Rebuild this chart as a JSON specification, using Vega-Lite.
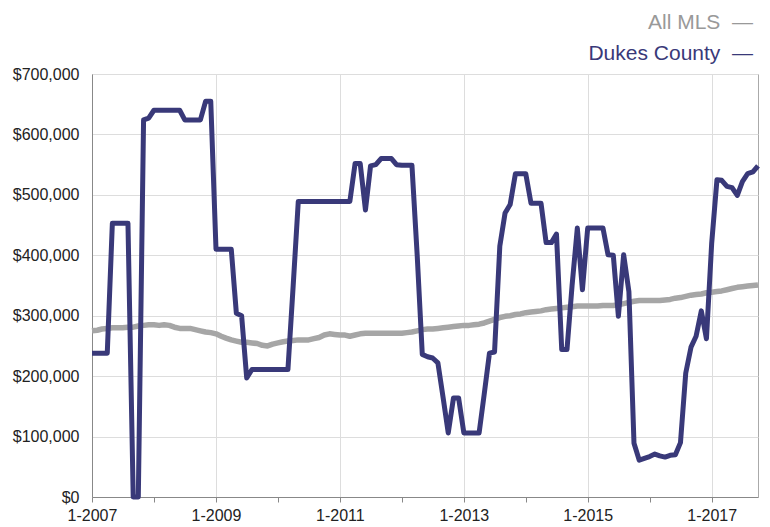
{
  "$schema": "https://vega.github.io/schema/vega-lite/v6.json",
  "width": 666,
  "height": 423,
  "autosize": {"type": "none"},
  "padding": {"left": 92, "top": 74, "right": 12, "bottom": 30},
  "background": "white",
  "config": {"font": "Liberation Sans", "view": {"stroke": "#aaaaaa", "strokeWidth": 1}},
  "data": {"values": [
    {"date":"2007-01-01","All MLS":275000,"Dukes County":238000},
    {"date":"2007-02-01","All MLS":276000,"Dukes County":238000},
    {"date":"2007-03-01","All MLS":278000,"Dukes County":238000},
    {"date":"2007-04-01","All MLS":279000,"Dukes County":238000},
    {"date":"2007-05-01","All MLS":280000,"Dukes County":453000},
    {"date":"2007-06-01","All MLS":280000,"Dukes County":453000},
    {"date":"2007-07-01","All MLS":280000,"Dukes County":453000},
    {"date":"2007-08-01","All MLS":281000,"Dukes County":453000},
    {"date":"2007-09-01","All MLS":281000,"Dukes County":0},
    {"date":"2007-10-01","All MLS":283000,"Dukes County":0},
    {"date":"2007-11-01","All MLS":284000,"Dukes County":624000},
    {"date":"2007-12-01","All MLS":285000,"Dukes County":627000},
    {"date":"2008-01-01","All MLS":285000,"Dukes County":640000},
    {"date":"2008-02-01","All MLS":284000,"Dukes County":640000},
    {"date":"2008-03-01","All MLS":285000,"Dukes County":640000},
    {"date":"2008-04-01","All MLS":284000,"Dukes County":640000},
    {"date":"2008-05-01","All MLS":281000,"Dukes County":640000},
    {"date":"2008-06-01","All MLS":279000,"Dukes County":640000},
    {"date":"2008-07-01","All MLS":279000,"Dukes County":624000},
    {"date":"2008-08-01","All MLS":279000,"Dukes County":624000},
    {"date":"2008-09-01","All MLS":277000,"Dukes County":624000},
    {"date":"2008-10-01","All MLS":275000,"Dukes County":624000},
    {"date":"2008-11-01","All MLS":273000,"Dukes County":655000},
    {"date":"2008-12-01","All MLS":272000,"Dukes County":655000},
    {"date":"2009-01-01","All MLS":270000,"Dukes County":410000},
    {"date":"2009-02-01","All MLS":266000,"Dukes County":410000},
    {"date":"2009-03-01","All MLS":263000,"Dukes County":410000},
    {"date":"2009-04-01","All MLS":260000,"Dukes County":410000},
    {"date":"2009-05-01","All MLS":258000,"Dukes County":304000},
    {"date":"2009-06-01","All MLS":256000,"Dukes County":300000},
    {"date":"2009-07-01","All MLS":256000,"Dukes County":197000},
    {"date":"2009-08-01","All MLS":255000,"Dukes County":211000},
    {"date":"2009-09-01","All MLS":254000,"Dukes County":211000},
    {"date":"2009-10-01","All MLS":251000,"Dukes County":211000},
    {"date":"2009-11-01","All MLS":250000,"Dukes County":211000},
    {"date":"2009-12-01","All MLS":253000,"Dukes County":211000},
    {"date":"2010-01-01","All MLS":255000,"Dukes County":211000},
    {"date":"2010-02-01","All MLS":257000,"Dukes County":211000},
    {"date":"2010-03-01","All MLS":258000,"Dukes County":211000},
    {"date":"2010-04-01","All MLS":259000,"Dukes County":350000},
    {"date":"2010-05-01","All MLS":260000,"Dukes County":489000},
    {"date":"2010-06-01","All MLS":260000,"Dukes County":489000},
    {"date":"2010-07-01","All MLS":260000,"Dukes County":489000},
    {"date":"2010-08-01","All MLS":262000,"Dukes County":489000},
    {"date":"2010-09-01","All MLS":264000,"Dukes County":489000},
    {"date":"2010-10-01","All MLS":268000,"Dukes County":489000},
    {"date":"2010-11-01","All MLS":270000,"Dukes County":489000},
    {"date":"2010-12-01","All MLS":269000,"Dukes County":489000},
    {"date":"2011-01-01","All MLS":268000,"Dukes County":489000},
    {"date":"2011-02-01","All MLS":268000,"Dukes County":489000},
    {"date":"2011-03-01","All MLS":266000,"Dukes County":489000},
    {"date":"2011-04-01","All MLS":268000,"Dukes County":552000},
    {"date":"2011-05-01","All MLS":270000,"Dukes County":552000},
    {"date":"2011-06-01","All MLS":271000,"Dukes County":475000},
    {"date":"2011-07-01","All MLS":271000,"Dukes County":548000},
    {"date":"2011-08-01","All MLS":271000,"Dukes County":550000},
    {"date":"2011-09-01","All MLS":271000,"Dukes County":560000},
    {"date":"2011-10-01","All MLS":271000,"Dukes County":560000},
    {"date":"2011-11-01","All MLS":271000,"Dukes County":560000},
    {"date":"2011-12-01","All MLS":271000,"Dukes County":550000},
    {"date":"2012-01-01","All MLS":271000,"Dukes County":549000},
    {"date":"2012-02-01","All MLS":272000,"Dukes County":549000},
    {"date":"2012-03-01","All MLS":273000,"Dukes County":549000},
    {"date":"2012-04-01","All MLS":275000,"Dukes County":400000},
    {"date":"2012-05-01","All MLS":277000,"Dukes County":236000},
    {"date":"2012-06-01","All MLS":278000,"Dukes County":232000},
    {"date":"2012-07-01","All MLS":278000,"Dukes County":230000},
    {"date":"2012-08-01","All MLS":279000,"Dukes County":222000},
    {"date":"2012-09-01","All MLS":280000,"Dukes County":164000},
    {"date":"2012-10-01","All MLS":281000,"Dukes County":106000},
    {"date":"2012-11-01","All MLS":282000,"Dukes County":164000},
    {"date":"2012-12-01","All MLS":283000,"Dukes County":164000},
    {"date":"2013-01-01","All MLS":284000,"Dukes County":106000},
    {"date":"2013-02-01","All MLS":284000,"Dukes County":106000},
    {"date":"2013-03-01","All MLS":285000,"Dukes County":106000},
    {"date":"2013-04-01","All MLS":286000,"Dukes County":106000},
    {"date":"2013-05-01","All MLS":288000,"Dukes County":170000},
    {"date":"2013-06-01","All MLS":291000,"Dukes County":238000},
    {"date":"2013-07-01","All MLS":294000,"Dukes County":240000},
    {"date":"2013-08-01","All MLS":297000,"Dukes County":415000},
    {"date":"2013-09-01","All MLS":299000,"Dukes County":470000},
    {"date":"2013-10-01","All MLS":300000,"Dukes County":484000},
    {"date":"2013-11-01","All MLS":302000,"Dukes County":535000},
    {"date":"2013-12-01","All MLS":303000,"Dukes County":535000},
    {"date":"2014-01-01","All MLS":305000,"Dukes County":535000},
    {"date":"2014-02-01","All MLS":306000,"Dukes County":486000},
    {"date":"2014-03-01","All MLS":307000,"Dukes County":486000},
    {"date":"2014-04-01","All MLS":308000,"Dukes County":486000},
    {"date":"2014-05-01","All MLS":310000,"Dukes County":421000},
    {"date":"2014-06-01","All MLS":311000,"Dukes County":421000},
    {"date":"2014-07-01","All MLS":312000,"Dukes County":435000},
    {"date":"2014-08-01","All MLS":313000,"Dukes County":244000},
    {"date":"2014-09-01","All MLS":314000,"Dukes County":244000},
    {"date":"2014-10-01","All MLS":315000,"Dukes County":350000},
    {"date":"2014-11-01","All MLS":316000,"Dukes County":445000},
    {"date":"2014-12-01","All MLS":316000,"Dukes County":343000},
    {"date":"2015-01-01","All MLS":316000,"Dukes County":445000},
    {"date":"2015-02-01","All MLS":316000,"Dukes County":445000},
    {"date":"2015-03-01","All MLS":316000,"Dukes County":445000},
    {"date":"2015-04-01","All MLS":317000,"Dukes County":445000},
    {"date":"2015-05-01","All MLS":317000,"Dukes County":401000},
    {"date":"2015-06-01","All MLS":317000,"Dukes County":400000},
    {"date":"2015-07-01","All MLS":318000,"Dukes County":299000},
    {"date":"2015-08-01","All MLS":320000,"Dukes County":401000},
    {"date":"2015-09-01","All MLS":322000,"Dukes County":340000},
    {"date":"2015-10-01","All MLS":324000,"Dukes County":89000},
    {"date":"2015-11-01","All MLS":325000,"Dukes County":61000},
    {"date":"2015-12-01","All MLS":325000,"Dukes County":64000},
    {"date":"2016-01-01","All MLS":325000,"Dukes County":67000},
    {"date":"2016-02-01","All MLS":325000,"Dukes County":71000},
    {"date":"2016-03-01","All MLS":325000,"Dukes County":68000},
    {"date":"2016-04-01","All MLS":326000,"Dukes County":66000},
    {"date":"2016-05-01","All MLS":327000,"Dukes County":69000},
    {"date":"2016-06-01","All MLS":329000,"Dukes County":70000},
    {"date":"2016-07-01","All MLS":330000,"Dukes County":90000},
    {"date":"2016-08-01","All MLS":332000,"Dukes County":205000},
    {"date":"2016-09-01","All MLS":334000,"Dukes County":248000},
    {"date":"2016-10-01","All MLS":335000,"Dukes County":266000},
    {"date":"2016-11-01","All MLS":336000,"Dukes County":308000},
    {"date":"2016-12-01","All MLS":338000,"Dukes County":262000},
    {"date":"2017-01-01","All MLS":339000,"Dukes County":420000},
    {"date":"2017-02-01","All MLS":340000,"Dukes County":525000},
    {"date":"2017-03-01","All MLS":341000,"Dukes County":524000},
    {"date":"2017-04-01","All MLS":343000,"Dukes County":514000},
    {"date":"2017-05-01","All MLS":345000,"Dukes County":512000},
    {"date":"2017-06-01","All MLS":347000,"Dukes County":499000},
    {"date":"2017-07-01","All MLS":348000,"Dukes County":522000},
    {"date":"2017-08-01","All MLS":349000,"Dukes County":535000},
    {"date":"2017-09-01","All MLS":350000,"Dukes County":538000},
    {"date":"2017-10-01","All MLS":351000,"Dukes County":548000}
  ]},
  "transform": [{"fold": ["All MLS", "Dukes County"], "as": ["series", "value"]}],
  "encoding": {
    "x": {
      "field": "date", "type": "temporal",
      "scale": {"type": "utc", "domain": [{"year": 2007, "month": 1, "date": 1, "utc": true}, {"year": 2017, "month": 10, "date": 1, "utc": true}]},
      "axis": {
        "title": null, "format": "%-m-%Y", "tickCount": "year",
        "labelExpr": "utcyear(datum.value) % 2 == 1 ? datum.label : ''",
        "labelFontSize": 16, "labelColor": "#222222", "labelPadding": 5,
        "labelFlush": false, "labelOverlap": false,
        "domainColor": "#888888", "tickColor": "#888888", "tickSize": 5,
        "gridColor": "#dddddd",
        "gridOpacity": {"condition": {"test": "utcyear(datum.value) % 2 == 1", "value": 1}, "value": 0}
      }
    },
    "y": {
      "field": "value", "type": "quantitative",
      "scale": {"domain": [0, 700000], "nice": false},
      "axis": {
        "title": null, "values": [0, 100000, 200000, 300000, 400000, 500000, 600000, 700000],
        "format": "$,.0f", "labelFontSize": 16, "labelColor": "#222222",
        "ticks": false, "labelPadding": 13, "domainColor": "#888888", "gridColor": "#dddddd"
      }
    },
    "color": {
      "field": "series", "type": "nominal",
      "scale": {"domain": ["All MLS", "Dukes County"], "range": ["#a6a6a6", "#393979"]},
      "legend": {
        "title": null, "orient": "none", "legendX": 640, "legendY": -62,
        "direction": "vertical", "symbolSize": 0, "symbolOpacity": 0, "symbolStrokeWidth": 0,
        "labelFontSize": 21, "labelAlign": "right", "labelOffset": 0, "rowPadding": 9,
        "padding": 0, "labelLimit": 400,
        "labelExpr": "datum.label + '\u00a0\u00a0\u2014'",
        "encode": {"labels": {"update": {"fill": {"signal": "datum.value === 'All MLS' ? '#999999' : '#393979'"}}}}
      }
    }
  },
  "layer": [
    {"transform": [{"filter": "datum.series === 'All MLS'"}], "mark": {"type": "line", "strokeWidth": 5.5, "strokeJoin": "round"}},
    {"transform": [{"filter": "datum.series === 'Dukes County'"}], "mark": {"type": "line", "strokeWidth": 5, "strokeJoin": "round"}}
  ]
}
